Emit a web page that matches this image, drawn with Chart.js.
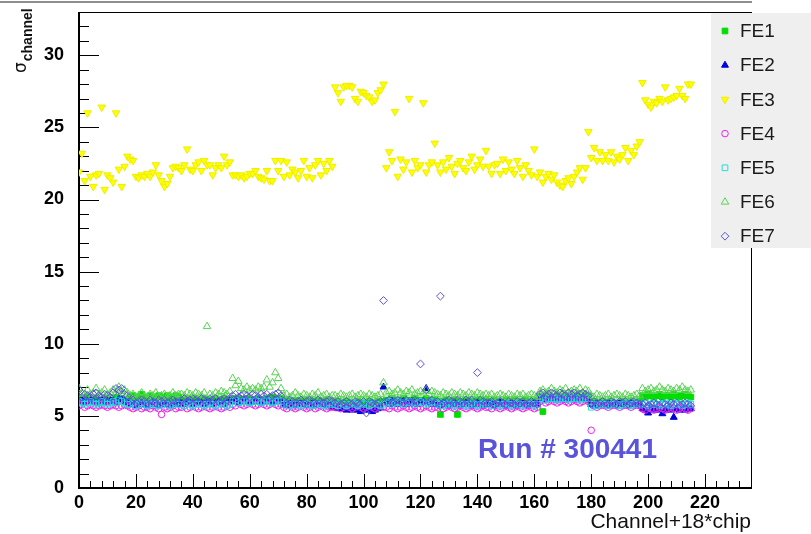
<!DOCTYPE html>
<html><head><meta charset="utf-8">
<script src="https://cdn.jsdelivr.net/npm/chart.js@4/dist/chart.umd.min.js"></script>
<style>html,body{margin:0;padding:0;background:#fff;}canvas{display:block;}</style>
</head><body>
<canvas id="c" width="811" height="534"></canvas>
<script>
// ---- data (channel index = position in array, 12 chips x 18 channels) ----
const FE1 = [
6.2,6.0,6.1,6.3,6.0,6.1,6.2,5.9,6.1,6.0,6.2,6.1,6.0,6.3,6.1,6.2,6.0,6.1,
6.3,6.4,6.2,6.3,6.5,6.2,6.3,6.4,6.2,6.3,6.4,6.3,6.2,6.4,6.3,6.2,6.4,6.3,
6.1,6.0,6.2,6.1,6.0,6.2,6.1,6.0,6.2,6.1,6.1,6.0,6.2,6.1,6.0,6.2,6.1,6.0,
6.2,6.1,6.2,6.0,6.1,6.2,6.1,6.0,6.1,6.2,6.1,6.0,6.2,6.1,6.3,6.2,6.1,6.2,
6.0,6.1,5.9,6.0,6.1,6.0,5.9,6.1,6.0,6.1,5.9,6.0,6.1,6.0,5.9,6.1,6.0,6.0,
5.9,6.0,5.8,5.9,6.0,5.9,5.8,5.9,6.0,5.9,5.8,5.9,6.0,5.8,5.9,6.0,5.9,6.0,
6.1,6.0,6.2,6.1,6.0,6.1,6.2,6.0,6.1,6.0,6.2,6.1,6.0,6.1,6.2,6.1,6.0,6.1,
6.0,5.1,6.0,6.1,5.9,6.0,6.1,5.1,6.0,5.9,6.1,6.0,5.9,6.0,6.1,5.9,6.0,6.1,
6.0,5.9,6.1,6.0,5.9,6.0,6.1,6.0,5.9,6.1,6.0,5.9,6.0,6.1,6.0,5.9,6.0,6.1,
6.3,5.3,6.3,6.4,6.2,6.3,6.4,6.3,6.2,6.4,6.3,6.2,6.3,6.4,6.3,6.2,6.4,6.3,
5.9,6.0,5.8,5.9,6.0,5.9,5.8,6.0,5.9,5.8,5.9,6.0,5.9,5.8,6.0,5.9,5.9,6.0,
6.4,6.3,6.5,6.4,6.3,6.4,6.5,6.3,6.4,6.4,6.3,6.5,6.4,6.3,6.4,6.5,6.4,6.3];
const FE2 = [
6.0,6.1,5.9,6.0,6.1,6.0,5.9,6.0,6.1,5.9,6.0,6.1,6.0,5.9,6.2,6.1,6.0,5.9,
5.8,5.9,5.7,5.8,5.9,5.8,5.7,5.8,5.9,5.8,5.7,5.8,5.9,5.8,5.7,5.8,5.9,5.8,
5.9,5.8,6.0,5.9,5.8,5.9,6.0,5.9,5.8,5.9,6.0,5.8,5.9,6.0,5.9,5.8,5.9,6.0,
6.0,6.1,5.9,6.0,6.1,6.0,5.9,6.1,6.0,6.1,5.9,6.0,6.1,6.0,5.9,6.1,6.0,6.1,
5.8,5.7,5.9,5.8,5.7,5.8,5.9,5.8,5.7,5.8,5.9,5.7,5.8,5.9,5.8,5.7,5.8,5.6,
5.6,5.5,5.6,5.5,5.4,5.5,5.4,5.5,5.4,5.3,5.4,5.5,5.4,5.3,5.4,5.5,5.6,7.0,
5.9,5.8,6.0,5.9,5.8,5.9,6.0,5.8,5.9,6.0,5.9,5.8,5.9,6.0,6.9,5.9,5.8,5.9,
5.8,5.7,5.9,5.8,5.7,5.8,5.9,5.8,5.7,5.8,5.9,5.8,5.7,5.8,5.9,5.8,5.7,5.8,
5.8,5.9,5.7,5.8,5.9,5.8,5.7,5.8,5.9,5.8,5.7,5.8,5.9,5.8,5.7,5.8,5.9,5.8,
6.2,6.3,6.1,6.2,6.3,6.2,6.1,6.3,6.2,6.1,6.2,6.3,6.2,6.1,6.2,6.3,6.2,6.1,
5.8,5.7,5.9,5.8,5.7,5.8,5.9,5.8,5.7,5.8,5.9,5.8,5.7,5.8,5.9,5.8,5.7,5.8,
5.5,5.4,5.2,5.6,5.4,5.5,5.4,5.15,5.4,5.5,5.4,4.9,5.5,5.4,5.5,5.4,5.6,5.5];
const FE3 = [
21.9,23.2,21.3,26.0,21.6,20.9,21.7,21.8,26.4,20.7,21.7,21.5,21.2,26.0,22.1,20.9,22.3,23.0,
22.8,22.7,21.6,21.5,21.7,21.6,21.8,21.6,21.9,22.4,21.7,21.3,20.9,21.1,21.6,22.2,22.3,22.2,
22.0,22.4,23.5,22.1,22.0,22.4,22.6,22.0,22.7,22.4,22.4,21.7,22.2,22.4,22.2,23.0,22.4,22.6,
21.7,21.7,21.6,21.7,21.5,21.6,21.8,21.8,22.0,21.6,21.5,21.4,22.0,21.3,21.3,22.7,22.0,22.7,
21.6,22.6,21.7,22.1,21.9,21.5,22.0,22.7,21.6,22.2,21.5,22.4,22.7,21.7,22.5,22.0,22.7,22.3,
27.8,27.4,26.8,27.8,27.9,27.9,27.8,27.0,26.8,27.5,27.4,27.2,27.1,26.8,26.9,27.4,27.6,28.0,
22.2,23.3,22.7,26.1,21.6,22.8,22.1,22.6,27.0,21.9,22.7,22.2,22.4,26.7,21.9,22.4,22.6,23.9,
22.4,21.9,22.6,22.1,22.9,22.3,21.8,22.5,22.7,22.2,22.0,22.6,23.0,22.1,22.4,22.8,22.3,23.4,
22.3,21.8,22.4,22.5,21.8,22.8,22.0,22.6,22.1,21.8,22.7,22.2,21.6,22.4,22.0,21.7,23.5,21.6,
21.9,21.2,21.6,21.8,21.4,21.7,21.2,21.0,20.9,21.3,21.5,21.1,21.6,21.9,22.2,21.4,22.2,24.7,
22.9,23.6,22.7,23.3,22.7,23.1,22.7,23.3,22.6,23.0,22.8,23.1,23.6,22.7,23.4,23.1,23.7,24.0,
28.1,26.9,26.6,26.4,26.8,26.7,27.0,26.8,27.8,26.9,27.0,27.1,27.2,27.7,27.2,27.0,28.0,28.0];
const FE4 = [
5.7,5.8,5.6,5.7,5.8,5.7,5.6,5.7,5.8,5.7,5.6,5.7,5.8,5.7,5.6,5.7,5.8,5.7,
5.6,5.5,5.6,5.7,5.5,5.6,5.6,5.5,5.7,5.6,5.5,5.1,5.6,5.5,5.6,5.7,5.5,5.6,
5.6,5.7,5.5,5.6,5.7,5.6,5.5,5.6,5.7,5.6,5.5,5.6,5.7,5.6,5.5,5.6,5.7,5.6,
5.8,5.7,5.9,5.8,5.7,5.8,5.9,5.8,5.7,5.8,5.9,5.8,5.7,5.8,5.9,5.8,5.7,5.8,
5.6,5.5,5.7,5.6,5.5,5.6,5.7,5.6,5.5,5.6,5.7,5.5,5.6,5.7,5.6,5.5,5.6,5.6,
5.6,5.7,5.5,5.6,5.7,5.6,5.5,5.6,5.7,5.6,5.5,5.6,5.7,5.6,5.5,5.6,5.7,5.6,
5.6,5.5,5.7,5.6,5.5,5.6,5.7,5.6,5.5,5.6,5.7,5.6,5.5,5.6,5.7,5.6,5.5,5.6,
5.6,5.7,5.5,5.6,5.7,5.6,5.5,5.6,5.7,5.6,5.5,5.6,5.7,5.6,5.5,5.6,5.7,5.6,
5.6,5.5,5.7,5.6,5.5,5.6,5.7,5.6,5.5,5.6,5.7,5.6,5.5,5.6,5.7,5.6,5.5,5.6,
6.0,6.1,5.9,6.0,6.1,6.0,5.9,6.0,6.1,6.0,5.9,6.0,6.1,6.0,5.9,6.0,6.1,6.0,
4.0,5.7,5.6,5.7,5.8,5.7,5.6,5.7,5.8,5.7,5.6,5.7,5.8,5.7,5.6,5.7,5.8,5.7,
5.5,5.4,5.6,5.5,5.4,5.5,5.6,5.5,5.4,5.5,5.6,5.5,5.4,5.5,5.6,5.5,5.4,5.5];
const FE5 = [
6.0,5.9,5.8,5.9,6.0,5.9,5.8,5.9,6.0,5.9,5.8,5.9,6.0,5.9,6.1,6.0,5.9,5.8,
5.8,5.9,5.7,5.8,5.9,5.8,5.7,5.8,5.9,5.8,5.7,5.8,5.9,5.8,5.7,5.8,5.9,5.8,
5.8,5.7,5.9,5.8,5.7,5.8,5.9,5.8,5.7,5.8,5.9,5.8,5.7,5.8,5.9,5.8,5.7,5.8,
6.0,6.1,5.9,6.0,6.1,6.0,5.9,6.0,6.1,6.0,5.9,6.0,6.1,6.0,5.9,6.0,6.1,6.0,
5.8,5.9,5.7,5.8,5.9,5.8,5.7,5.8,5.9,5.8,5.7,5.8,5.9,5.8,5.7,5.8,5.9,5.8,
5.8,5.7,5.9,5.8,5.7,5.8,5.9,5.8,5.7,5.8,5.9,5.8,5.7,5.8,5.9,5.8,5.7,5.8,
5.9,6.0,5.8,5.9,6.0,5.9,5.8,5.9,6.0,5.9,5.8,5.9,6.0,5.9,5.8,5.9,6.0,5.9,
5.8,5.9,5.7,5.8,5.9,5.8,5.7,5.8,5.9,5.8,5.7,5.8,5.9,5.8,5.7,5.8,5.9,5.8,
5.8,5.7,5.9,5.8,5.7,5.8,5.9,5.8,5.7,5.8,5.9,5.8,5.7,5.8,5.9,5.8,5.7,5.8,
6.2,6.3,6.1,6.2,6.3,6.2,6.1,6.2,6.3,6.2,6.1,6.2,6.3,6.2,6.1,6.2,6.3,6.2,
5.6,5.8,5.7,5.8,5.9,5.8,5.7,5.8,5.9,5.8,5.7,5.8,5.9,5.8,5.7,5.8,5.9,5.8,
5.8,5.9,5.7,5.8,5.9,5.8,5.7,5.8,5.9,5.8,5.7,5.8,5.9,5.8,5.7,5.8,5.9,5.8];
const FE6 = [
6.9,6.6,6.5,6.8,6.5,6.6,6.9,6.5,6.6,6.8,6.5,6.6,6.8,6.6,7.0,6.7,6.8,6.6,
6.4,6.5,6.3,6.4,6.6,6.4,6.3,6.5,6.4,6.6,6.3,6.4,6.5,6.3,6.4,6.6,6.4,6.5,
6.5,6.4,6.6,6.5,6.4,6.6,6.5,6.4,6.6,11.2,6.5,6.4,6.6,6.5,6.7,6.6,6.5,6.7,
7.6,7.1,7.4,6.9,6.8,7.0,6.8,6.9,6.8,7.0,6.9,7.0,7.5,7.0,7.3,8.0,7.6,6.9,
6.4,6.5,6.3,6.4,6.6,6.4,6.3,6.5,6.4,6.3,6.5,6.4,6.6,6.3,6.4,6.5,6.3,6.4,
6.4,6.3,6.5,6.4,6.3,6.4,6.5,6.3,6.4,6.5,6.4,6.3,6.5,6.4,6.3,6.4,6.5,7.3,
6.6,6.7,6.5,6.6,6.8,6.6,6.5,6.7,6.6,6.8,6.5,6.6,6.7,6.6,6.8,6.5,6.7,6.6,
6.5,6.4,6.6,6.5,6.4,6.6,6.5,6.4,6.6,6.5,6.4,6.6,6.5,6.4,6.6,6.5,6.4,6.5,
6.4,6.5,6.3,6.4,6.5,6.4,6.3,6.5,6.4,6.3,6.5,6.4,6.5,6.3,6.4,6.5,6.4,6.3,
6.7,6.8,6.6,6.7,6.9,6.7,6.6,6.8,6.7,6.9,6.6,6.7,6.8,6.7,6.9,6.6,6.8,6.7,
6.4,6.3,6.5,6.4,6.3,6.4,6.5,6.3,6.4,6.5,6.4,6.3,6.5,6.4,6.3,6.4,6.5,6.4,
6.9,6.7,6.8,6.9,6.7,6.8,7.0,6.8,6.7,6.9,6.8,6.7,6.9,6.8,7.0,6.8,6.7,6.8];
const FE7 = [
6.8,6.3,6.5,6.4,6.3,6.5,6.6,6.4,6.3,6.5,6.4,6.3,6.6,6.9,6.8,6.9,6.5,6.4,
6.0,6.1,5.9,6.0,6.1,6.0,5.9,6.1,6.0,5.9,6.1,6.0,6.1,5.9,6.0,6.1,6.0,5.9,
6.1,6.2,6.0,6.1,6.2,6.1,6.0,6.2,6.1,6.0,6.2,6.1,6.2,6.0,6.1,6.2,6.1,6.2,
6.4,6.5,6.3,6.4,6.5,6.4,6.3,6.5,6.4,6.3,6.5,6.4,6.5,6.3,6.4,6.5,6.6,6.4,
6.0,5.9,6.1,6.0,5.9,6.0,6.1,5.9,6.0,6.1,6.0,5.9,6.1,6.0,5.9,6.0,6.1,6.0,
5.9,6.0,5.8,5.9,6.0,5.9,5.8,6.0,5.9,5.8,6.0,5.2,6.0,5.9,5.8,5.9,6.0,13.0,
6.0,6.1,5.9,6.0,6.1,6.0,5.9,6.1,6.0,5.9,6.1,6.0,8.6,6.0,6.8,6.0,6.1,5.9,
6.0,13.3,5.9,6.0,6.1,6.0,5.9,6.1,6.0,5.9,6.1,6.0,6.1,5.9,8.0,6.1,6.0,5.9,
5.9,6.0,5.8,5.9,6.0,5.9,5.8,6.0,5.9,5.8,6.0,5.9,6.0,5.8,5.9,6.0,5.9,5.8,
6.5,6.6,6.4,6.5,6.6,6.5,6.4,6.6,6.5,6.4,6.6,6.5,6.6,6.4,6.5,6.6,6.5,6.4,
5.9,6.0,5.8,5.9,6.0,5.9,5.8,6.0,5.9,5.8,6.0,5.9,6.0,5.8,5.9,6.0,5.9,5.8,
5.8,5.9,5.7,5.8,5.9,5.8,5.7,5.9,5.8,5.7,5.9,5.8,5.9,5.7,5.8,5.9,5.8,5.7];

const seriesNames = ['FE1','FE2','FE3','FE4','FE5','FE6','FE7'];
const seriesValues = [FE1, FE2, FE3, FE4, FE5, FE6, FE7];
const xTicks = [0,20,40,60,80,100,120,140,160,180,200,220];
const yTicks = [0,5,10,15,20,25,30];
const xTitle = 'Channel+18*chip';
const yTitleMain = 'σ';
const yTitleSub = 'channel';
const runLabel = 'Run # 300441';

// ---- styles ----
const markerStyles = [
  {color:'#00dd00', fill:'#00dd00', shape:'rect', r:4.0, rot:0},
  {color:'#0000dd', fill:'#0000dd', shape:'triangle', r:4.0, rot:0},
  {color:'#eeee00', fill:'#ffff00', shape:'triangle', r:4.3, rot:180},
  {color:'#ee22ee', fill:'rgba(0,0,0,0)', shape:'circle', r:3.3, rot:0},
  {color:'#22dddd', fill:'rgba(0,0,0,0)', shape:'rect', r:4.0, rot:0},
  {color:'#59d454', fill:'rgba(0,0,0,0)', shape:'triangle', r:4.3, rot:0},
  {color:'#5954d9', fill:'rgba(0,0,0,0)', shape:'rectRot', r:3.9, rot:0},
];
const FONT = '"Liberation Sans", Arial, Helvetica, sans-serif';

const datasets = seriesValues.map((vals, i) => ({
  label: seriesNames[i],
  data: vals.map((v, k) => ({x: k, y: v})),
  pointStyle: markerStyles[i].shape,
  pointRadius: markerStyles[i].r,
  pointRotation: markerStyles[i].rot,
  pointBorderWidth: 1,
  pointBorderColor: markerStyles[i].color,
  pointBackgroundColor: markerStyles[i].fill,
  showLine: false,
  order: 6 - i
}));

function drawMarker(ctx, st, x, y) {
  ctx.save();
  ctx.lineWidth = 1;
  ctx.strokeStyle = st.color;
  ctx.fillStyle = st.fill;
  if (Chart.helpers && Chart.helpers.drawPoint) {
    Chart.helpers.drawPoint(ctx, {pointStyle: st.shape, radius: st.r, rotation: st.rot, borderWidth: 1}, x, y);
  }
  ctx.restore();
}

const rootPlugin = {
  id: 'rootStyle',
  beforeDraw(chart) {
    const ctx = chart.ctx;
    ctx.save();
    ctx.fillStyle = '#ffffff';
    ctx.fillRect(0, 0, chart.width, chart.height);
    ctx.fillStyle = '#8e8e8e';
    ctx.fillRect(0, 1, 752, 2);
    ctx.restore();
  },
  beforeDatasetsDraw(chart) {
    const ctx = chart.ctx, a = chart.chartArea;
    const xs = chart.scales.x, ys = chart.scales.y;
    ctx.save();
    ctx.strokeStyle = '#000';
    ctx.lineWidth = 1;
    ctx.strokeRect(a.left + 0.5, a.top + 0.5, a.right - a.left - 1, a.bottom - a.top);
    ctx.fillStyle = '#000';
    ctx.fillRect(a.left - 1, a.top, 2, a.bottom - a.top + 1);
    ctx.fillRect(a.left - 1, a.bottom - 1, a.right - a.left + 1, 2);
    ctx.beginPath();
    for (let v = 0; v <= ys.max + 1e-9; v += 1) {
      const y = Math.round(ys.getPixelForValue(v)) + 0.5;
      const len = (v % 5 === 0) ? 20 : 10;
      ctx.moveTo(a.left, y); ctx.lineTo(a.left + len, y);
    }
    for (let v = 0; v <= xs.max + 1e-9; v += 4) {
      const x = Math.round(xs.getPixelForValue(v)) + 0.5;
      const len = (v % 20 === 0) ? 14 : 7;
      ctx.moveTo(x, a.bottom); ctx.lineTo(x, a.bottom - len);
    }
    ctx.stroke();
    ctx.restore();
  },
  afterDatasetsDraw(chart) {
    const ctx = chart.ctx;
    ctx.save();
    ctx.fillStyle = '#5954d9';
    ctx.font = 'bold 28px ' + FONT;
    ctx.textAlign = 'left';
    ctx.textBaseline = 'alphabetic';
    ctx.fillText(runLabel, 478, 458);
    ctx.fillStyle = '#111';
    ctx.font = '21px ' + FONT;
    ctx.textAlign = 'right';
    ctx.fillText(xTitle, 751, 528);
    ctx.translate(26, 73);
    ctx.rotate(-Math.PI / 2);
    ctx.textAlign = 'left';
    ctx.font = '17px "DejaVu Sans", ' + FONT;
    ctx.fillText(yTitleMain, 0, 0);
    const w = ctx.measureText(yTitleMain).width;
    ctx.font = 'bold 14px ' + FONT;
    ctx.fillText(yTitleSub, w + 1, 6);
    ctx.restore();
    ctx.save();
    ctx.fillStyle = '#efefef';
    ctx.fillRect(711, 13, 100, 235);
    ctx.font = '19px ' + FONT;
    ctx.textBaseline = 'middle';
    ctx.textAlign = 'left';
    seriesNames.forEach((name, i) => {
      const y = 32 + i * 34.2;
      drawMarker(ctx, markerStyles[i], 725, y - 1);
      ctx.fillStyle = '#1a1a1a';
      ctx.fillText(name, 740, y);
    });
    ctx.restore();
  }
};

new Chart(document.getElementById('c'), {
  type: 'scatter',
  data: { datasets },
  options: {
    responsive: false,
    animation: false,
    devicePixelRatio: 1,
    layout: { padding: { left: 0, right: 59, top: 12, bottom: 0 } },
    plugins: { legend: { display: false }, tooltip: { enabled: false } },
    scales: {
      x: {
        type: 'linear', min: 0, max: 236.5,
        grid: { display: false, drawTicks: false },
        border: { display: false },
        afterBuildTicks: s => { s.ticks = xTicks.map(v => ({ value: v })); },
        afterFit: s => { s.height = 46; s.paddingLeft = 0; s.paddingRight = 0; },
        ticks: { font: { family: FONT, size: 18, weight: 'bold' }, color: '#000', padding: 4, maxRotation: 0, autoSkip: false,
                 callback: v => String(v) }
      },
      y: {
        type: 'linear', min: 0, max: 33,
        grid: { display: false, drawTicks: false },
        border: { display: false },
        afterBuildTicks: s => { s.ticks = yTicks.map(v => ({ value: v })); },
        afterFit: s => { s.width = 79; s.paddingTop = 0; s.paddingBottom = 0; },
        ticks: { font: { family: FONT, size: 18, weight: 'bold' }, color: '#000', padding: 15, autoSkip: false,
                 callback: v => String(v) }
      }
    }
  },
  plugins: [rootPlugin]
});
</script>
</body></html>
